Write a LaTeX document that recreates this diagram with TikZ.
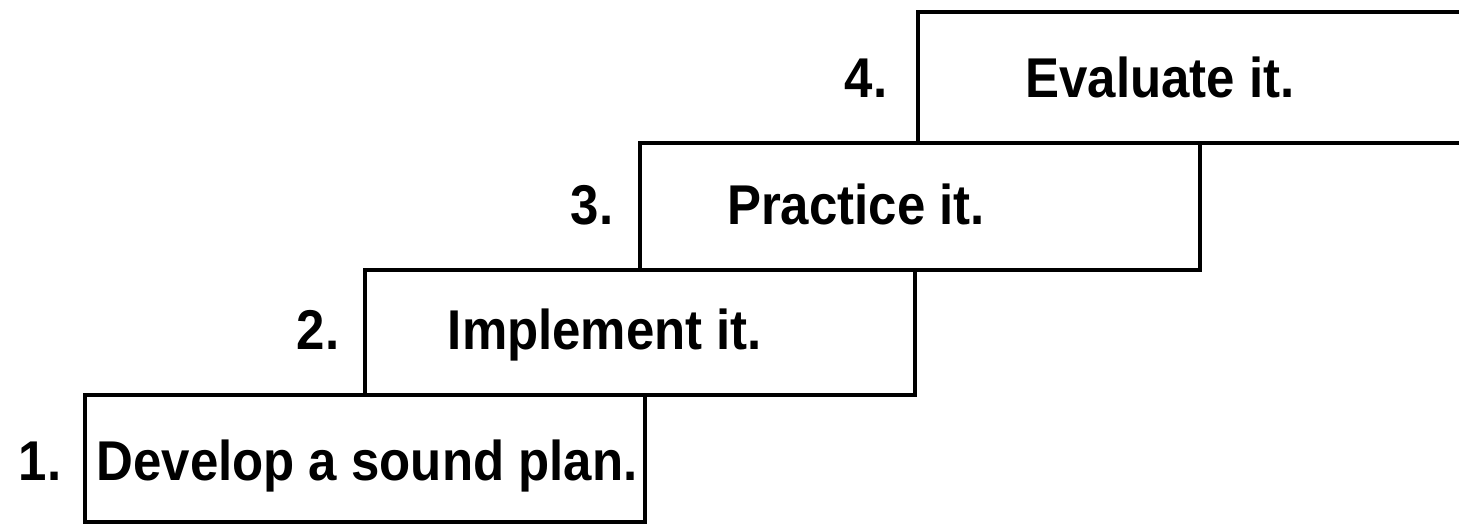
\documentclass[tikz,border=0pt]{standalone}
\usepackage{fontspec}
\setmainfont{Liberation Sans}

\begin{document}
\begin{tikzpicture}[line width=2.2pt, font=\fontsize{29}{34}\selectfont\bfseries,
	stepbox/.style={draw, rectangle, inner sep=0pt},
	steptext/.style={anchor=base, inner sep=0pt, yscale=1.1, transform shape}]
	\useasboundingbox (0,0) rectangle (29.18,-10.52);
	\clip (0,0) rectangle (29.18,-10.52);
	\node[stepbox, minimum width=11.2cm, minimum height=2.54cm] (B1) at (7.3,-9.17) {};
	\node[stepbox, minimum width=11cm, minimum height=2.5cm] (B2) at (12.8,-6.65) {};
	\node[stepbox, minimum width=11.2cm, minimum height=2.54cm] (B3) at (18.4,-4.13) {};
	\coordinate (B4a) at (29.6,-0.24);
	\coordinate (B4b) at (18.36,-2.86);
	\coordinate (B4c) at (29.6,-2.86);
	\draw (B4a) -| (B4b) -- (B4c);
	\node[steptext] (T1) at (7.34,-9.62) {Develop a sound plan.};
	\node[steptext] (T2) at (12.1,-7.0) {Implement it.};
	\node[steptext] (T3) at (17.12,-4.5) {Practice it.};
	\node[steptext] (T4) at (23.2,-1.96) {Evaluate it.};
	\node[steptext] (L1) at (0.8,-9.62) {1.};
	\node[steptext] (L2) at (6.36,-7.0) {2.};
	\node[steptext] (L3) at (11.84,-4.5) {3.};
	\node[steptext] (L4) at (17.32,-1.96) {4.};
\end{tikzpicture}
\end{document}
